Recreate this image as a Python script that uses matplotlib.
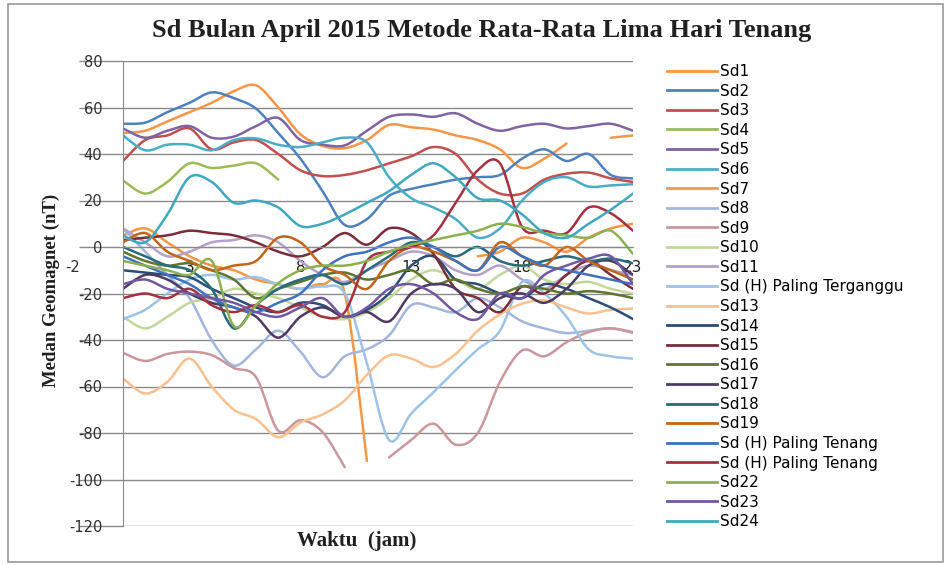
import numpy as np
import matplotlib
matplotlib.use('Agg')
import matplotlib.pyplot as plt
from matplotlib.path import Path
from matplotlib.patches import PathPatch, Rectangle
from matplotlib.lines import Line2D

plt.rcParams['axes.unicode_minus'] = False
nan = np.nan

# jam 0..23
jam = list(range(24))
label_jam = [3, 8, 13, 18, 23]
y_ticks = [80, 60, 40, 20, 0, -20, -40, -60, -80, -100, -120]

# nilai Sd tiap jam
sd1 = [49, 50, 54, 58, 62, 67, 69.5, 60, 48.5, 43.5, 42.5, 46, 52.5, 51.5, 50.5, 48, 46, 42, 34, 38, 44.5, nan, 47, 48]
sd2 = [53, 53.5, 58, 62, 66.5, 64, 59.5, 49, 38, 24, 9.5, 12, 22, 25, 27, 29, 30, 31, 38, 42, 37, 40, 31, 29.5]
sd3 = [37, 46, 48, 51, 42, 45, 46, 40, 33, 30.5, 31, 33, 36, 39, 43, 40, 29, 23, 23, 29, 31.5, 32, 29.5, 28]
sd4 = [28.6, 23, 28, 36, 34, 35, 36, 29] + [nan] * 16
sd5 = [51, 47, 50, 52, 47, 47.5, 52, 55.5, 46, 44, 43.7, 50, 56, 57, 56, 57.5, 53, 50, 52, 53, 51, 52, 53, 50]
sd6 = [48, 41.6, 44, 44, 41.6, 46, 46.7, 44, 43, 45, 47, 45, 30, 21, 17, 12, 4, 8, 20, 28, 30, 26, 26.5, 27]
sd7 = [5, 8, 2, -4, -8, -10, -14, -16, -18, -16, -20, -92, nan, nan, nan, nan, -4, -2, 4, 2, -2, 4, 8, 10]
sd8 = [8, -2, -12, -22, -40, -51, -44, -36, -45, -56, -47, -44, -38, -25, -26, -28, -22, -26, -32, -35, -37, -36, -35, -37]
sd9 = [-45.5, -49, -46, -45, -46.5, -52, -56, -79, -74.5, -79.6, -94.7, nan, -90.5, -83, -76, -85, -80, -58, -44.5, -47, -41, -36.6, -35, -36.6]
sd10 = [-30, -35, -30, -24, -22, -18, -20, -22, -26, -30, -31, -28, -22, -14, -10, -14, -18, -12, -8, -14, -16, -15, -18, -20]
sd11 = [8, 2, -4, -2, 2, 3, 5, 2, -6, -12, -15, -10, -6, -2, -4, -10, -12, -8, -14, -18, -12, -8, -10, -12]
sd12 = [-31, -27, -20, -14, -12, -14, -13, -16, -18, -17, -20, -50, -83, -71.6, -62.5, -53, -44, -36, -15, -20, -30, -44, -47, -48]
sd13 = [-56.5, -63, -58, -48, -60, -70, -74, -81.8, -75.5, -72, -66, -55, -46.6, -48, -51.6, -46, -36, -29, -24.4, -23, -26, -28.6, -27, -26.5]
sd14 = [-10, -11, -12, -13, -18, -22, -26, -28, -24, -25, -30, -27, -20, -8, -4, -14, -16, -20, -22, -16, -18, -22, -26, -31]
sd15 = [3, 4, 5, 7, 6, 5, 2, -2, -4, 0, 6, 1, 8, 6, -3, -18, -22, -28, -17, -20, -12, -6, -12, -18]
sd16 = [-2, -6, -8, -7, -10, -14, -22, -18, -15, -12, -11, -14, -12, -10, -16, -14, -18, -20, -17, -18, -20, -19, -20, -22]
sd17 = [-18, -12, -14, -20, -24, -26, -30, -39, -30, -26, -30, -28, -32, -20, -16, -18, -28, -22, -20, -24, -18, -8, -6, -12]
sd18 = [0, -4, -8, -10, -18, -35, -25, -18, -14, -12, -16, -10, -4, 2, 0, -4, 0, -6, -8, -6, -4, -6, -5, -7]
sd19 = [2, 6, -2, -6, -10, -8, -6, 4, 2, -8, -12, -18, -6, 0, -2, -6, -10, 2, -4, -8, 0, -6, -10, -14]
sd20 = [-4, -8, -12, -16, -22, -26, -28, -24, -20, -10, -4, -2, 2, 4, 0, -6, -10, 0, -4, -8, -10, -12, -14, -16]
sd21 = [-22, -20, -22, -18, -25, -28, -25, -28, -25, -30, -28, -6, -2, 0, 5, 19, 33, 36, 8.5, 7, 6, 17, 14.5, 7]
sd22 = [-6, -8, -10, -12, -6, -34, -25, -15.6, -10, -8, -8, -6, -2, 1, 3, 5, 7, 10, 8.6, 6, 5, 4, 7, -3]
sd23 = [-16, -14, -18, -20, -22, -24, -28, -30, -26, -22, -30, -26, -18, -16, -20, -28, -31, -20, -22, -12, -8, -5, -4, -16]
sd24 = [5, 2, 14, 30, 28, 19, 20, 17, 9, 10, 14, 19, 24, 31, 36, 30, 21, 20, 14, 6, 4, 10, 16, 23]

series = [sd1, sd2, sd3, sd4, sd5, sd6, sd7, sd8, sd9, sd10, sd11, sd12,
          sd13, sd14, sd15, sd16, sd17, sd18, sd19, sd20, sd21, sd22, sd23, sd24]
nama = ['Sd1', 'Sd2', 'Sd3', 'Sd4', 'Sd5', 'Sd6', 'Sd7', 'Sd8', 'Sd9', 'Sd10', 'Sd11',
        'Sd (H) Paling Terganggu', 'Sd13', 'Sd14', 'Sd15', 'Sd16', 'Sd17', 'Sd18', 'Sd19',
        'Sd (H) Paling Tenang', 'Sd (H) Paling Tenang', 'Sd22', 'Sd23', 'Sd24']
warna = ['#F79646', '#4F81BD', '#C0504D', '#9BBB59', '#8064A2', '#4BACC6',
         '#F79646', '#A3B6DC', '#C9979C', '#C3D69B', '#B3A2C7', '#9DC3E6',
         '#FAC090', '#2C4D75', '#7B2C3A', '#5F7530', '#4D3B62', '#276A7C',
         '#C0651A', '#3F72C0', '#A5303F', '#8DB050', '#7158A0', '#3FA8C0']


def kurva_halus(x, y):
    # garis halus ala excel (catmull-rom -> bezier), putus kalau ada nan
    y = np.asarray(y, float)
    x = np.asarray(x, float)
    verts, codes = [], []
    n = len(y)
    i = 0
    while i < n:
        if np.isnan(y[i]):
            i += 1
            continue
        j = i
        while j + 1 < n and not np.isnan(y[j + 1]):
            j += 1
        px, py = x[i:j + 1], y[i:j + 1]
        if len(px) > 1:
            verts.append((px[0], py[0]))
            codes.append(Path.MOVETO)
            m = len(px)
            for k in range(m - 1):
                k0 = max(k - 1, 0)
                k3 = min(k + 2, m - 1)
                c1 = (px[k] + (px[k + 1] - px[k0]) / 6, py[k] + (py[k + 1] - py[k0]) / 6)
                c2 = (px[k + 1] - (px[k3] - px[k]) / 6, py[k + 1] - (py[k3] - py[k]) / 6)
                verts += [c1, c2, (px[k + 1], py[k + 1])]
                codes += [Path.CURVE4] * 3
        i = j + 1
    return Path(verts, codes)


fig = plt.figure(figsize=(9.45, 5.65), dpi=100)
ax = fig.add_axes([123 / 945, 1 - 526 / 565, (633 - 123) / 945, (526 - 61) / 565])

for k, (s, c) in enumerate(zip(series, warna)):
    ax.add_patch(PathPatch(kurva_halus(jam, s), facecolor='none', edgecolor=c,
                           lw=1.8, zorder=2 + k * 0.01, capstyle='round'))

ax.set_xlim(0, 23)
ax.set_ylim(-120, 80)
ax.set_yticks(y_ticks)
ax.set_xticks(label_jam)
ax.grid(axis='y', color='#8A8A8A', lw=1.0, zorder=1)
ax.set_axisbelow(True)

for sp in ['top', 'right']:
    ax.spines[sp].set_visible(False)
ax.spines['left'].set_color('#8A8A8A')
ax.spines['bottom'].set_position(('data', 0))
ax.spines['bottom'].set_color('#8A8A8A')

ax.tick_params(axis='y', length=32, width=1.0, color='#8A8A8A', pad=-17,
               labelsize=10.5, labelcolor='#303030')
ax.tick_params(axis='x', length=0, pad=9, labelsize=11, labelcolor='#202020')

fig.text(482 / 945, 1 - 31 / 565, 'Sd Bulan April 2015 Metode Rata-Rata Lima Hari Tenang',
         ha='center', va='center', fontsize=19, fontweight='bold',
         family='Liberation Serif', color='#202020')
fig.text(51 / 945, 1 - 290 / 565, 'Medan Geomagnet (nT)', rotation=90,
         ha='center', va='center', fontsize=13.5, fontweight='bold',
         family='Liberation Serif', color='#202020')
fig.text(357 / 945, 1 - 541 / 565, 'Waktu  (jam)', ha='center', va='center',
         fontsize=15, fontweight='bold', family='Liberation Serif', color='#202020')
fig.text(73 / 945, 1 - 268 / 565, '-2', ha='center', va='center', fontsize=10.5,
         color='#303030')

handles = [Line2D([], [], color=c, lw=2.0) for c in warna]
fig.legend(handles, nama, loc='upper left', bbox_to_anchor=(667 / 945, 1 - 64 / 565),
           frameon=False, fontsize=11, handlelength=3.3, handletextpad=0.15,
           labelspacing=0.30, borderaxespad=0, borderpad=0)

fig.add_artist(Rectangle((8 / 945, 3 / 565), 935 / 945, 558 / 565, transform=fig.transFigure,
                         fill=False, edgecolor='#9A9A9A', lw=1.2))

fig.savefig('out.png', dpi=100)
